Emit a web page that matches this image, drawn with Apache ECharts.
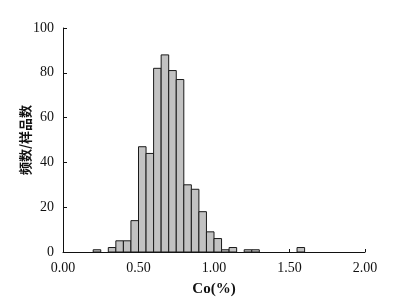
<!DOCTYPE html>
<html>
<head>
<meta charset="utf-8">
<script src="https://cdn.jsdelivr.net/npm/echarts@6/dist/echarts.min.js"></script>
<style>html,body{margin:0;padding:0;background:#fff}#c{width:396px;height:308px}</style>
</head>
<body>
<div id="c"></div>
<script>
// Histogram bins (lower edge, %Co) and counts
var binStarts = [0.20, 0.30, 0.35, 0.40, 0.45, 0.50, 0.55, 0.60, 0.65, 0.70, 0.75, 0.80, 0.85, 0.90, 0.95, 1.00, 1.05, 1.10, 1.20, 1.25, 1.55];
var counts    = [1,    2,    5,    5,    14,   47,   44,   82,   88,   81,   77,   30,   28,   18,   9,    6,    1,    2,    1,    1,    2];
var binWidth = 0.05;
var xTicks = [0, 0.5, 1.0, 1.5, 2.0];
var yTicks = [0, 20, 40, 60, 80, 100];

var data = binStarts.map(function (s, i) { return [s, s + binWidth, counts[i]]; });

var chart = echarts.init(document.getElementById('c'), null, {renderer: 'canvas'});
var serif = 'Liberation Serif';
chart.setOption({
  animation: false,
  backgroundColor: '#fff',
  grid: {left: 63, right: 31, top: 28, bottom: 56},
  xAxis: {
    type: 'value', min: 0, max: 2, interval: 0.5,
    name: 'Co(%)', nameLocation: 'middle', nameGap: 30, nameMoveOverlap: false,
    nameTextStyle: {fontFamily: serif, fontSize: 15, fontWeight: 'bold', color: '#111'},
    axisLine: {show: true, onZero: false, lineStyle: {color: '#111', width: 1}},
    axisTick: {show: true, inside: true, length: 3, lineStyle: {color: '#111'}},
    axisLabel: {fontFamily: serif, fontSize: 14, color: '#111', margin: 9,
      formatter: function (v) { return v.toFixed(2); }},
    splitLine: {show: false}
  },
  yAxis: {
    type: 'value', min: 0, max: 100, interval: 20,
    name: '频数/样品数', nameLocation: 'middle', nameGap: 31, nameRotate: 90, nameMoveOverlap: false,
    nameTextStyle: {fontFamily: 'Noto Sans CJK SC', fontSize: 13, fontWeight: 'bold', color: '#111'},
    axisLine: {show: true, lineStyle: {color: '#111', width: 1}},
    axisTick: {show: true, inside: true, length: 4, lineStyle: {color: '#111'}},
    axisLabel: {fontFamily: serif, fontSize: 14, color: '#111', margin: 9},
    splitLine: {show: false}
  },
  series: [{
    type: 'custom',
    data: data,
    encode: {x: [0, 1], y: 2},
    renderItem: function (params, api) {
      var p0 = api.coord([api.value(0), 0]);
      var p1 = api.coord([api.value(1), api.value(2)]);
      return {
        type: 'rect',
        shape: {x: p0[0], y: p1[1], width: p1[0] - p0[0], height: p0[1] - p1[1]},
        style: {fill: '#c2c2c2', stroke: '#1a1a1a', lineWidth: 1}
      };
    }
  }]
});
</script>
</body>
</html>
